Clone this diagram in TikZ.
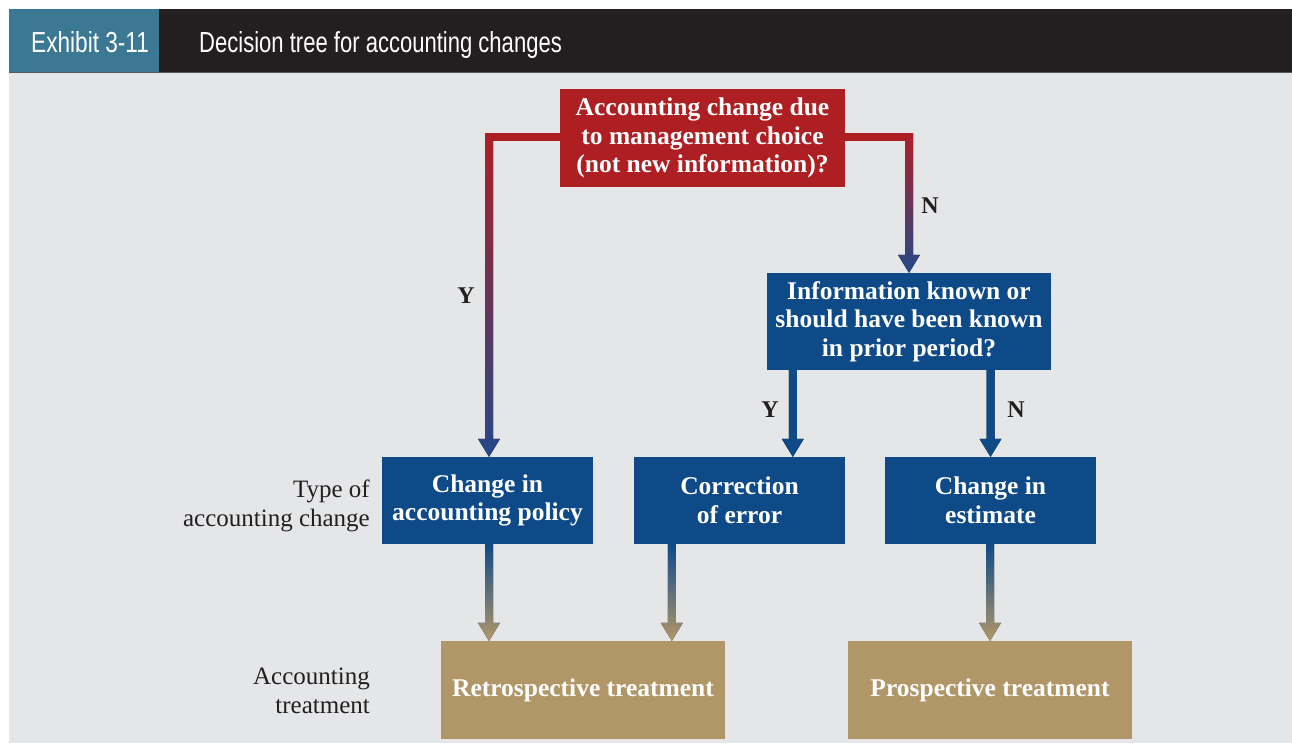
\documentclass[tikz,border=0pt]{standalone}
\usepackage{fontspec}
\setmainfont{Liberation Serif}
\newfontfamily\hdrfont{Liberation Sans}
\usetikzlibrary{calc}

\definecolor{hdrdark}{HTML}{231F20}
\definecolor{hdrteal}{HTML}{3B7893}
\definecolor{panel}{HTML}{E5E6E8}
\definecolor{qred}{HTML}{AE1F24}
\definecolor{qblue}{HTML}{0F4A88}
\definecolor{arrblue}{HTML}{24488A}
\definecolor{tan}{HTML}{B19768}
\definecolor{ink}{HTML}{231F20}

% vertical connector with an arrow head, shaded from top to bottom
\newcommand\shadedarrow[4]{%
  \fill[top color=#3,bottom color=#4]
    let \p1=#1, \p2=#2 in
    (\x2-4,\y1) -- (\x2+4,\y1) -- (\x2+4,\y2+18) -- (\x2+11,\y2+18) --
    (\x2,\y2) -- (\x2-11,\y2+18) -- (\x2-4,\y2+18) -- cycle;}

\begin{document}
\begin{tikzpicture}[x=1pt,y=-1pt,
  boxtext/.style={text=white,font=\bfseries\fontsize{25.5}{28.5}\selectfont,
    align=center,inner sep=0pt},
  redbox/.style={boxtext,fill=qred,minimum width=285,minimum height=98},
  bluebox/.style={boxtext,fill=qblue,minimum width=284,minimum height=97},
  typebox/.style={boxtext,fill=qblue,minimum width=211,minimum height=87},
  treatbox/.style={boxtext,fill=tan,minimum width=284,minimum height=98},
  yn/.style={text=ink,font=\bfseries\fontsize{24}{26}\selectfont,inner sep=0pt},
  rowlabel/.style={text=ink,font=\fontsize{25}{28.5}\selectfont,align=right,
    inner sep=0pt,anchor=east},
  hdrtext/.style={text=white,inner sep=0pt,anchor=base west}]

\useasboundingbox (0,0) rectangle (1292,745);
\fill[white] (0,0) rectangle (1292,745);

% panel and title bar
\fill[panel] (9,72) rectangle (1292,743);
\fill[hdrdark] (9,8.5) rectangle (1292,72);
\fill[hdrteal] (9,8.5) rectangle (159,72);
\draw[gray!70!black,line width=0.8] (9,72) -- (1292,72);
\node[hdrtext] (exno) at (31,52)
  {\hdrfont\fontsize{29}{32}\selectfont\scalebox{0.78}[1]{Exhibit 3-11}};
\node[hdrtext] (title) at (199,52)
  {\hdrfont\fontsize{29}{32}\selectfont\scalebox{0.76}[1]{Decision tree for accounting changes}};

% red cross bar behind the first question
\coordinate (barL) at (485,133);
\coordinate (barR) at (913,141);
\fill[qred] (barL) rectangle (barR);

% nodes
\node[redbox] (q1) at (702.5,138)
  {Accounting change due\\to management choice\\(not new information)?};
\node[bluebox] (q2) at (909,321.5)
  {Information known or\\should have been known\\in prior period?};
\node[typebox] (policy) at (487.5,500.5) {Change in\\accounting policy};
\node[typebox] (error) at (739.5,500.5) {Correction\\of error};
\node[typebox] (estimate) at (990.5,500.5) {Change in\\estimate};
\node[treatbox] (retro) at (583,690) {Retrospective treatment};
\node[treatbox] (prosp) at (990,690) {Prospective treatment};

\node[rowlabel] (typelbl) at (370,506) {Type of\\accounting change};
\node[rowlabel] (treatlbl) at (370,691) {Accounting\\treatment};

% connectors
\coordinate (yL) at (489,133);
\coordinate (yR) at (909,133);
\shadedarrow{(yL)}{(policy.north -| yL)}{qred}{arrblue}
\shadedarrow{(yR)}{(q2.north)}{qred}{arrblue}

\coordinate (q2y) at ($(q2.south west)+(26,0)$);
\shadedarrow{(q2y)}{(error.north -| q2y)}{qblue}{qblue}
\shadedarrow{(q2.south -| estimate.north)}{(estimate.north)}{qblue}{qblue}

\coordinate (errx) at ($(error.south west)+(38,0)$);
\shadedarrow{(policy.south -| yL)}{(retro.north -| yL)}{qblue}{tan}
\shadedarrow{(errx)}{(retro.north -| errx)}{qblue}{tan}
\shadedarrow{(estimate.south)}{(prosp.north)}{qblue}{tan}

% branch labels
\node[yn] (ylab1) at (466,296) {Y};
\node[yn] (nlab1) at (930,206) {N};
\node[yn] (ylab2) at (770,410) {Y};
\node[yn] (nlab2) at (1016,410) {N};
\end{tikzpicture}
\end{document}
